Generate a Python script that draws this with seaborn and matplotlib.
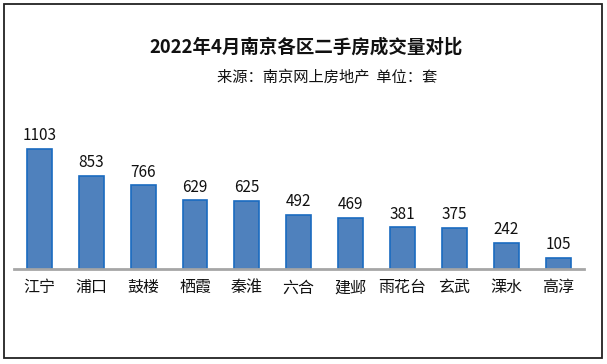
import pandas as pd
import seaborn as sns
import matplotlib.pyplot as plt
from matplotlib.patches import Rectangle

# data
districts = ["江宁", "浦口", "鼓楼", "栖霞", "秦淮", "六合", "建邺", "雨花台", "玄武", "溧水", "高淳"]
deals = [1103, 853, 766, 629, 625, 492, 469, 381, 375, 242, 105]
title = "2022年4月南京各区二手房成交量对比"
subtitle = "来源：南京网上房地产  单位：套"

df = pd.DataFrame({"district": districts, "deals": deals})

sns.set_theme(style="white")
plt.rcParams["font.family"] = ["Noto Sans CJK SC", "DejaVu Sans"]

W, H = 607, 364
fig = plt.figure(figsize=(W / 100, H / 100), dpi=100)
ax = fig.add_axes([13.5 / W, 1 - 269 / H, (584 - 13.5) / W, 144 / H])

sns.barplot(data=df, x="district", y="deals", color="#4F81BD", width=0.48,
            edgecolor="#1A6BC0", linewidth=1.2, saturation=1, ax=ax)

for i, v in enumerate(deals):
    ax.annotate(str(v), (i, v), xytext=(0, 3.5), textcoords="offset points",
                ha="center", va="bottom", fontsize=11, color="#111111")

ax.set_xlim(-0.5, 10.5)
ax.set_ylim(0, 1320)
ax.set_xlabel("")
ax.set_ylabel("")
ax.set_yticks([])
for s in ["top", "left", "right"]:
    ax.spines[s].set_visible(False)
ax.spines["bottom"].set_color("#A6A6A6")
ax.spines["bottom"].set_linewidth(2)
ax.tick_params(axis="x", length=0, pad=7.5, labelsize=11.5, labelcolor="#111111")
ax.patch.set_alpha(0)

fig.text(0.5 * (148 + 465) / W, 1 - 47 / H, title, ha="center", va="center",
         fontsize=13.3, fontweight="bold", color="#111111")
fig.text((215 + 440) / 2 / W, 1 - 77 / H, subtitle, ha="center", va="center",
         fontsize=11, color="#111111")

# outer frame
fig.patches.append(Rectangle((4 / W, 6 / H), 598 / W, 354 / H, transform=fig.transFigure,
                             fill=False, edgecolor="#222222", linewidth=1.3))

plt.savefig("out.png", dpi=100)
plt.close()
